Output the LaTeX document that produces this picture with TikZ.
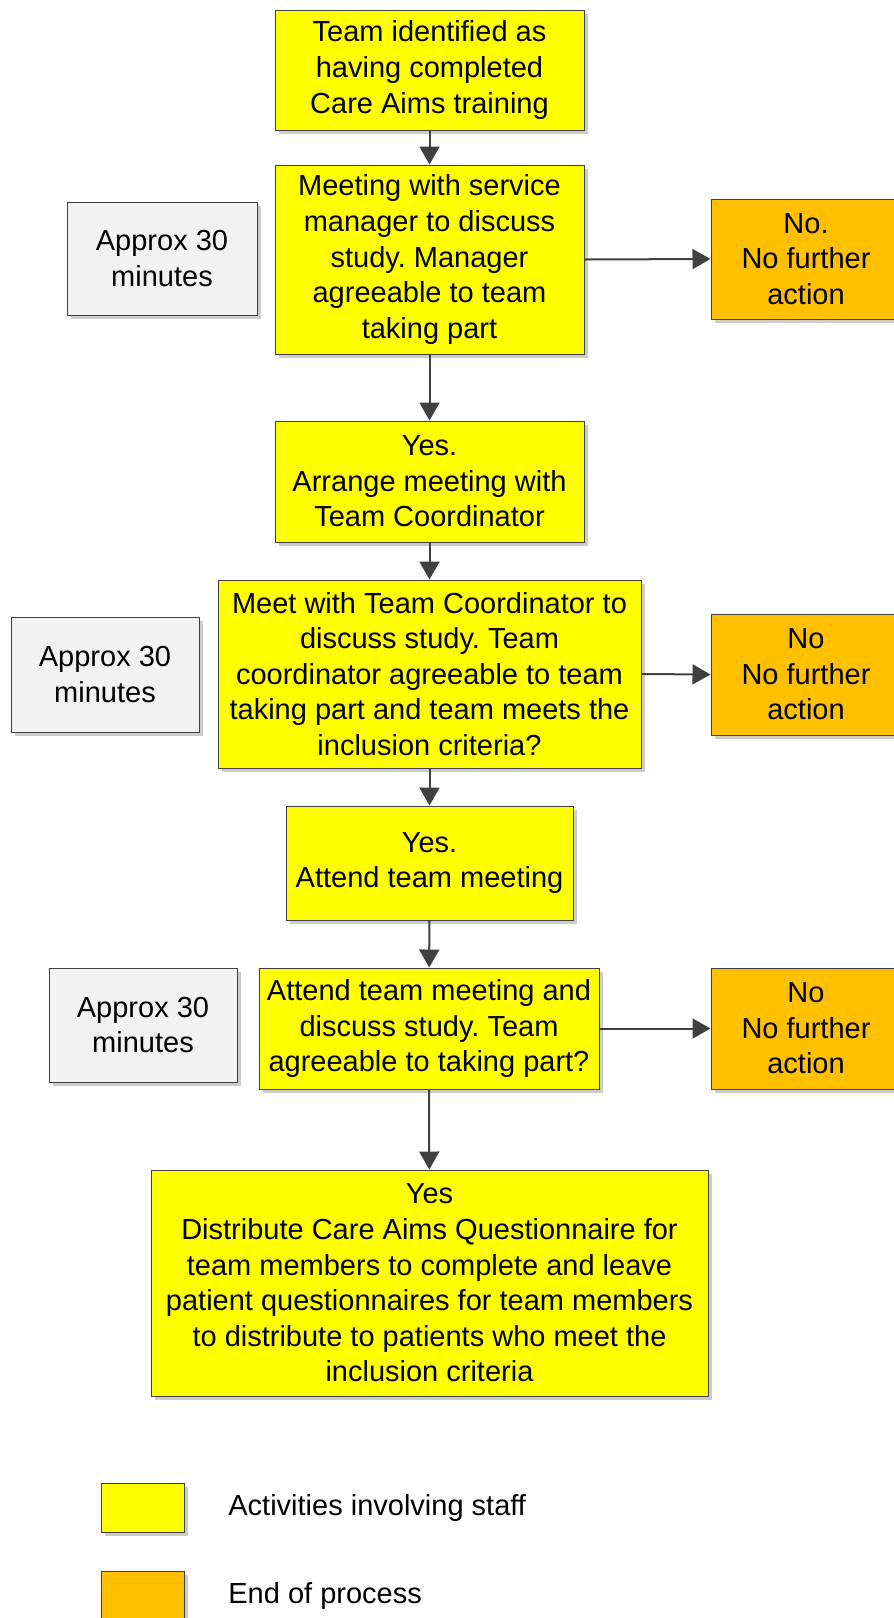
\documentclass[tikz,border=0pt]{standalone}
\usepackage{fontspec}
\setmainfont{Liberation Sans}
\usetikzlibrary{arrows.meta,shadows}
\frenchspacing
\definecolor{stafffill}{HTML}{FFFF00}
\definecolor{endfill}{HTML}{FFC000}
\definecolor{notefill}{HTML}{F2F2F2}
\definecolor{edgegray}{HTML}{404040}
\tikzset{
  basebox/.style={draw=edgegray, line width=0.5pt, inner sep=0pt, align=center,
    font=\fontsize{14.5}{17.8}\selectfont,
    drop shadow={shadow xshift=2pt, shadow yshift=-2pt, fill=black!20, opacity=1}},
  staffbox/.style={basebox, fill=stafffill},
  endbox/.style={basebox, fill=endfill},
  notebox/.style={basebox, fill=notefill},
  flow/.style={draw=edgegray, line width=1pt, -{Triangle[length=9pt,width=10pt]}},
  legendtext/.style={anchor=west, inner sep=0pt, font=\fontsize{14.5}{17.8}\selectfont},
}
\begin{document}
\begin{tikzpicture}[x=0.5pt, y=-0.5pt]
  \useasboundingbox (0,0) rectangle (894,1618);
  \clip (0,0) rectangle (894,1618);

  % main column
  \node[staffbox, minimum width=154.5pt, minimum height=60pt] (s1) at (429.5,70)
    {Team identified as\\having completed\\Care Aims training};
  \node[staffbox, minimum width=154.5pt, minimum height=94.5pt] (s2) at (429.5,259.5)
    {Meeting with service\\manager to discuss\\study. Manager\\agreeable to team\\taking part};
  \node[staffbox, minimum width=154.5pt, minimum height=60.5pt] (s3) at (429.5,481.5)
    {Yes.\\Arrange meeting with\\Team Coordinator};
  \node[staffbox, minimum width=211.5pt, minimum height=94pt] (s4) at (429.5,674)
    {Meet with Team Coordinator to\\discuss study. Team\\coordinator agreeable to team\\taking part and team meets the\\inclusion criteria?};
  \node[staffbox, minimum width=143.5pt, minimum height=57pt] (s5) at (429.5,863)
    {Yes.\\Attend team meeting};
  \node[staffbox, minimum width=170pt, minimum height=60.5pt] (s6) at (429,1028.5)
    {Attend team meeting and\\discuss study. Team\\agreeable to taking part?};
  \node[staffbox, minimum width=278.5pt, minimum height=113pt] (s7) at (429.5,1283)
    {Yes\\Distribute Care Aims Questionnaire for\\team members to complete and leave\\patient questionnaires for team members\\to distribute to patients who meet the\\inclusion criteria};

  % time notes
  \node[notebox, minimum width=95pt, minimum height=56.5pt] (t1) at (162,258.5)
    {Approx 30\\minutes};
  \node[notebox, minimum width=94pt, minimum height=57.5pt] (t2) at (105,674.5)
    {Approx 30\\minutes};
  \node[notebox, minimum width=94pt, minimum height=57pt] (t3) at (143,1025)
    {Approx 30\\minutes};

  % end points
  \node[endbox, minimum width=95pt, minimum height=60pt] (e1) at (806,259)
    {No.\\No further\\action};
  \node[endbox, minimum width=95pt, minimum height=60.5pt] (e2) at (806,674.5)
    {No\\No further\\action};
  \node[endbox, minimum width=95pt, minimum height=60.5pt] (e3) at (806,1028.5)
    {No\\No further\\action};

  % connectors
  \draw[flow] (s1) -- (s2);
  \draw[flow] (s2) -- (s3);
  \draw[flow] (s3) -- (s4);
  \draw[flow] (s4) -- (s5);
  \draw[flow] (s5) -- (s6);
  \draw[flow] (s6) -- (s7);
  \draw[flow] (s2.east) -- (e1.west);
  \draw[flow] (s4.east) -- (e2.west);
  \draw[flow] (s6.east) -- (e3.west);

  % legend
  \node[staffbox, minimum width=41.5pt, minimum height=24.5pt] (k1) at (142.5,1507.5) {};
  \node[endbox, minimum width=41.5pt, minimum height=24.5pt] (k2) at (142.5,1595.5) {};
  \node[legendtext] (k1t) at (228,1508) {Activities involving staff};
  \node[legendtext] (k2t) at (228,1596) {End of process};
\end{tikzpicture}
\end{document}
